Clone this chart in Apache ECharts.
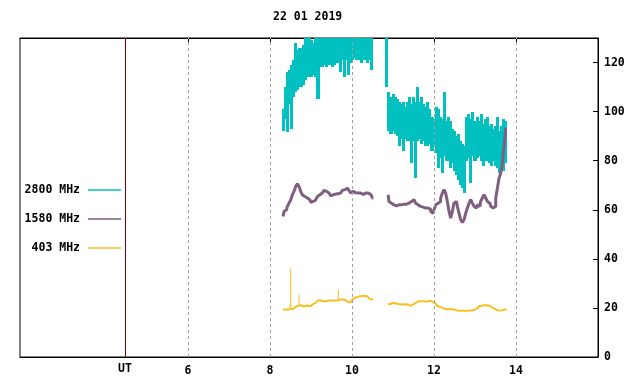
<!DOCTYPE html>
<html><head><meta charset="utf-8">
<script src="https://cdn.jsdelivr.net/npm/echarts@6/dist/echarts.min.js"></script>
<style>html,body{margin:0;padding:0;background:#fff}#c{width:640px;height:384px}</style>
</head><body><div id="c"></div>
<script>
// ---------------- data ----------------
const titleText = '22 01 2019';
const xTickHours = [6, 8, 10, 12, 14];
const utHour = 4.46;
const utLabel = 'UT';
const seriesNames = ['2800 MHz', '1580 MHz', '403 MHz'];

// 2800 MHz: envelope (upper / lower) per 0.05 h sample
const t2800A = { start: 8.32, step: 0.05 };
const high2800A = [101,110,116,117,119,121,128,125,126,126,127,130,133,134,129,128,130,134,134,134,134,134,134,134,134,134,134,134,134,134,134,134,134,134,134,134,134,134,134,134,134,134,134,134];
const low2800A  = [92,97,91.5,103,93,106,108,109,110,110,111,113,114,114,114,115,114,105,118,118,119,118,119,119,118,119,120,120,116,121,114,121,115,120,121,122,121,121,120,121,121,120,121,117];
const t2800B = { start: 10.85, step: 0.05 };
const high2800B = [134,108,106,107,106,105,104,103,104,102,104,106,103,106,104,110,104,106,103,102,104,101,98,97,102,101,98,97,108,96,98,96,93,92,90,91,88,87,86,98,99,97,100,96,98,96,99,95,97,98,94,95,93,94,98,92,94,97,96];
const low2800B  = [110,92,91,92,91,90,86,89,84,89,88,88,79,88,73,88,89,87,88,86,86,87,84,86,83,77,81,75,82,80,80,77,79,76,74,72,70,69,67,80,81,71,82,80,81,82,80,78,80,80,79,78,80,78,77,75,78,76,79];

// 1580 MHz
const t1580A = { start: 8.32, step: 0.0407 };
const val1580A = [57.3,59.3,60,61.4,62.7,64,66.1,67.5,69.5,70.6,69.5,67.5,66.1,65.4,64.8,64.1,64.1,63,63.4,64,64.8,65.4,66.1,66.8,66.9,67.9,67.5,66.8,66.1,65.7,66.1,66.4,66.4,66.5,66.9,67.5,67.9,68.2,68.8,68.2,67.8,66.9,67.5,66.9,66.9,66.8,66.8,66.9,66.3,66.8,66.3,66.8,66.3,65.7,64.8];
const t1580B = { start: 10.88, step: 0.0407 };
const val1580B = [66.1,63.4,62.7,62,62,61.6,62,62,62,62.3,62,62.3,62.7,62.7,63.4,64.1,63.4,62.7,62,61.4,61.1,61.1,60.7,60.7,60.7,60.3,59.3,58.6,60,62,62.7,63.4,64.8,66.8,68.2,66.8,63.4,59.3,56.6,59.3,62.7,63.4,61.4,58.6,55.9,54.8,55.9,58.6,60.7,62.7,64.1,62.7,61.4,60.7,62,61.4,63.4,64.8,66.1,64.8,63.4,62.7,61.4,60.7,61.4,64.8,68.8,72.9,75,79,86,93];

// 403 MHz
const t403A = { start: 8.32, step: 0.0407 };
const val403A = [19.3,19.4,19.4,19.4,19.5,19.6,19.7,20.4,20.7,20.8,21.1,21.0,20.7,20.7,21.0,20.8,20.8,21.4,21.6,22.2,22.7,23.0,23.1,23.0,22.7,22.7,22.7,22.9,23.0,23.0,23.0,23.0,23.0,23.1,23.4,23.4,23.4,23.1,22.7,22.3,22.3,22.7,23.5,24.1,24.5,24.8,24.8,24.9,25.1,24.9,24.7,24.4,23.8,23.5,23.5];
const t403B = { start: 10.88, step: 0.0407 };
const val403B = [21.6,21.6,21.8,22.0,21.9,21.8,21.6,21.5,21.4,21.4,21.5,21.6,21.4,20.8,20.9,21.5,22.0,22.4,22.7,22.7,22.6,22.7,22.6,22.7,22.7,22.9,22.7,22.4,21.8,21.4,20.8,20.4,20.0,19.6,19.6,19.5,19.5,19.5,19.5,19.4,19.3,18.9,18.8,18.8,18.8,18.8,18.9,18.8,18.9,18.9,18.9,19.0,19.4,19.8,20.4,20.7,20.9,21.1,21.2,21.1,20.9,20.7,20.3,19.8,19.4,19.2,18.9,18.9,19.0,19.3,19.5,19.5];
const spikeHours403 = [8.49, 8.505, 8.707, 8.91, 9.666];
const spikeBase403  = [19.5, 19.5, 20.8, 21.0, 23.1];
const spikePeak403  = [21.8, 36, 25.4, 21.8, 27.5];

// ---------------- chart ----------------
const FONT = "'DejaVu Sans Mono', monospace";
const C2800 = '#00c0c0', C1580 = '#7f5f7f', C403 = '#f9bf1e';

function seq(t, vals) { return vals.map((v, i) => [t.start + i * t.step, v]); }
function band(t, hi, lo) { return hi.map((h, i) => [t.start + i * t.step, lo[i], h]); }

function bandSeries(name, t, hi, lo, color) {
  return { type: 'custom', name, z: 3, data: band(t, hi, lo),
    encode: { x: 0, y: [1, 2] }, itemStyle: { color },
    renderItem: (params, api) => {
      const x = api.value(0);
      const pLo = api.coord([x, api.value(1)]);
      const pHi = api.coord([x, api.value(2)]);
      const x0 = Math.floor(api.coord([x - t.step / 2, 0])[0]);
      const x1 = Math.ceil(api.coord([x + t.step / 2, 0])[0]);
      const cs = params.coordSys;
      const rect = echarts.graphic.clipRectByRect(
        { x: x0, y: Math.round(pHi[1]), width: x1 - x0, height: Math.round(pLo[1]) - Math.round(pHi[1]) },
        { x: cs.x, y: cs.y, width: cs.width, height: cs.height });
      return rect && { type: 'rect', shape: rect, style: { fill: color } };
    } };
}
function lineSeries(name, data, color, width) {
  return { type: 'line', name, data, symbol: 'none', showSymbol: false, z: 3, step: 'middle',
    lineStyle: { color, width }, itemStyle: { color }, clip: true };
}
function legendFor(name, top, color) {
  return { data: [{ name, itemStyle: { color } }], right: 519, top, orient: 'horizontal', align: 'right', padding: 0,
    itemGap: 0, itemWidth: 33, itemHeight: 1.5, icon: 'rect', selectedMode: false,
    textStyle: { fontFamily: FONT, fontWeight: 'bold', fontSize: 11.5, color: '#000', padding: [0, 3, 0, 0] } };
}

const chart = echarts.init(document.getElementById('c'), null, { renderer: 'canvas' });
chart.setOption({
  animation: false,
  backgroundColor: '#fff',
  title: { text: titleText, left: 273, top: 11, padding: 0,
    textStyle: { fontFamily: FONT, fontWeight: 'bold', fontSize: 11.5, color: '#000' } },
  legend: [legendFor(seriesNames[0], 184, C2800), legendFor(seriesNames[1], 213, C1580), legendFor(seriesNames[2], 242, C403)],
  grid: { left: 20, right: 42, top: 38, bottom: 27, show: true, borderColor: '#000', borderWidth: 1,
    containLabel: false, outerBoundsMode: 'none' },
  xAxis: [
    { type: 'value', min: 1.9, max: 16, position: 'bottom',
      axisLine: { show: true, lineStyle: { color: '#000', width: 1 } },
      axisTick: { show: false },
      axisLabel: { customValues: xTickHours, margin: 8, color: '#000', fontFamily: FONT, fontWeight: 'bold', fontSize: 11.5 },
      splitLine: { show: false } },
    { type: 'value', min: 1.9, max: 16, position: 'top',
      axisLine: { show: true, lineStyle: { color: '#000', width: 1 } },
      axisTick: { show: true, inside: true, length: 4, customValues: xTickHours, lineStyle: { color: '#000', width: 1 } },
      axisLabel: { show: false, customValues: xTickHours }, splitLine: { show: false } }
  ],
  yAxis: [{ type: 'value', min: 0, max: 130, interval: 20, position: 'right',
    axisLine: { show: true, lineStyle: { color: '#000', width: 1 } },
    axisTick: { show: true, inside: true, length: 5, lineStyle: { color: '#000', width: 1 } },
    axisLabel: { margin: 6, showMaxLabel: false, color: '#000', fontFamily: FONT, fontWeight: 'bold', fontSize: 11.5 },
    splitLine: { show: false } }],
  series: [
    { type: 'line', name: 'grid', data: [], z: 1, silent: true,
      markLine: { silent: true, symbol: 'none', animation: false,
        data: [
          ...xTickHours.map(h => ({ xAxis: h, lineStyle: { color: '#a0a0a0', type: [3, 3], width: 1 }, label: { show: false } })),
          { xAxis: utHour, lineStyle: { color: '#800000', type: 'solid', width: 1 },
            label: { show: true, position: 'start', distance: 6, formatter: utLabel, color: '#000',
              fontFamily: FONT, fontWeight: 'bold', fontSize: 11.5 } }
        ] } },
    bandSeries(seriesNames[0], t2800A, high2800A, low2800A, C2800),
    bandSeries(seriesNames[0], t2800B, high2800B, low2800B, C2800),
    lineSeries(seriesNames[1], seq(t1580A, val1580A), C1580, 3),
    lineSeries(seriesNames[1], seq(t1580B, val1580B), C1580, 3),
    lineSeries(seriesNames[2], seq(t403A, val403A), C403, 2),
    lineSeries(seriesNames[2], seq(t403B, val403B), C403, 2),
    { type: 'custom', name: seriesNames[2], z: 3,
      data: spikeHours403.map((t, i) => [t, spikeBase403[i], spikePeak403[i]]),
      encode: { x: 0, y: [1, 2] },
      itemStyle: { color: C403 },
      renderItem: (params, api) => {
        const p0 = api.coord([api.value(0), api.value(1)]);
        const p1 = api.coord([api.value(0), api.value(2)]);
        return { type: 'line', shape: { x1: p0[0], y1: p0[1], x2: p1[0], y2: p1[1] },
          style: { stroke: C403, lineWidth: 1 } };
      } }
  ]
});
</script>
</body></html>
